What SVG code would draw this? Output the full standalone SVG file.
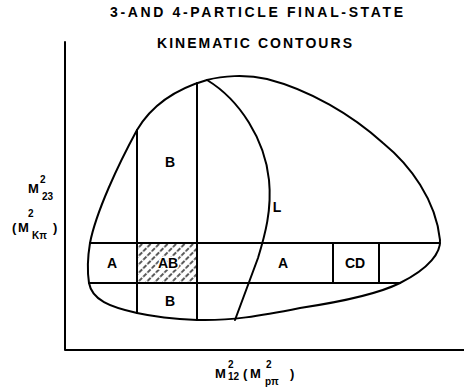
<svg xmlns="http://www.w3.org/2000/svg" width="464" height="390" viewBox="0 0 464 390">
<style>
.ln{fill:none;stroke:#000;stroke-width:2;stroke-linecap:round;stroke-linejoin:round}
.t{font-family:"Liberation Sans","DejaVu Sans",sans-serif;font-weight:bold;fill:#000}
.lab{font-size:14px;text-anchor:middle}
.ax{font-size:13px}
.sm{font-size:10px}
</style>
<defs>
<pattern id="hatch" width="6" height="6" patternUnits="userSpaceOnUse" patternTransform="rotate(45)">
<line x1="3" y1="0" x2="3" y2="6" stroke="#000" stroke-width="1.3" stroke-dasharray="4.5 1.5"/>
</pattern>
</defs>
<text class="t" x="256.5" y="17" font-size="14" text-anchor="middle" textLength="293" lengthAdjust="spacing">3-AND 4-PARTICLE FINAL-STATE</text>
<text class="t" x="254.5" y="48" font-size="14" text-anchor="middle" textLength="195" lengthAdjust="spacing">KINEMATIC CONTOURS</text>
<g id="axes">
<path class="ln" d="M65,42 L65,350 L464,350"/>
</g>
<g id="hatched-AB">
<rect x="137" y="243" width="60" height="40" fill="url(#hatch)"/>
</g>
<g id="connectors">
<path id="outer-contour" class="ln" stroke-width="2.3" d="M137,130 C150,108 172,90 207,80 C222,76 245,74 267,79 C310,90 352,115 383,143 C410,165 436,200 440,240 C441,252 430,268 400,283 C380,293 340,302 300,308 C260,316 230,321 197,320 C175,319 155,317 137,313 C110,307 92,300 89,283 C87,270 88,255 90,243 C96,212 118,165 137,130 Z"/>
<path id="L-curve" class="ln" d="M207,80 C240,100 265,140 269,180 C272,210 265,235 258,258 L235,320"/>
<path class="ln" d="M90,243 L440,243"/>
<path class="ln" d="M89,283 L400,283"/>
<path class="ln" d="M137,130 L137,313"/>
<path class="ln" d="M197,83 L197,320"/>
<path class="ln" d="M333,243 L333,283"/>
<path class="ln" d="M379,243 L379,283"/>
</g>
<g id="labels">
<text class="t lab" x="170" y="167">B</text>
<text class="t lab" x="277" y="212" font-size="15">L</text>
<text class="t lab" x="112" y="268">A</text>
<text class="t lab" x="168" y="268" stroke="#fff" stroke-width="3" paint-order="stroke">AB</text>
<text class="t lab" x="283" y="268">A</text>
<text class="t lab" x="355" y="268">CD</text>
<text class="t lab" x="170" y="306">B</text>
</g>
<g id="y-axis-label">
<text class="t ax" x="28" y="193">M</text>
<text class="t sm" x="40" y="183">2</text>
<text class="t sm" x="42" y="200">23</text>
<text class="t ax" x="12" y="232">(</text>
<text class="t ax" x="18" y="232">M</text>
<text class="t sm" x="28" y="217">2</text>
<text class="t sm" x="32" y="239">Kπ</text>
<text class="t ax" x="53" y="232">)</text>
</g>
<g id="x-axis-label">
<text class="t ax" x="215" y="378">M</text>
<text class="t sm" x="228" y="368">2</text>
<text class="t sm" x="228" y="380">12</text>
<text class="t ax" x="243" y="378">(</text>
<text class="t ax" x="250" y="378">M</text>
<text class="t sm" x="266" y="368">2</text>
<text class="t sm" x="265" y="385">pπ</text>
<text class="t ax" x="290" y="378">)</text>
</g>
</svg>
